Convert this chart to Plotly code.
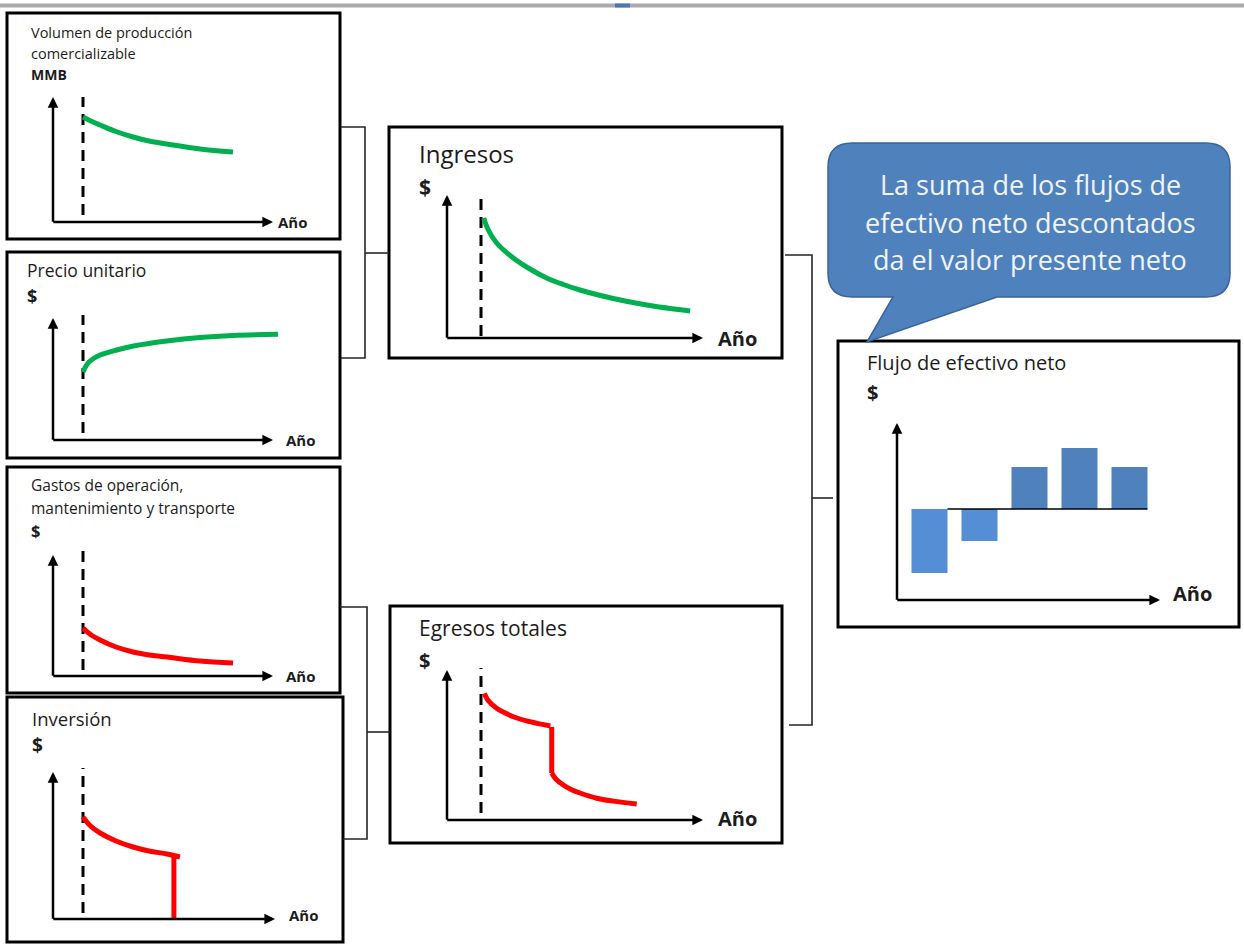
import plotly.graph_objects as go

# ---------------- series ----------------
inicio = 1.0  # año de inicio de la producción (línea punteada)

vol_anios = [1.0, 1.3, 1.57, 2.1, 2.67, 3.2, 3.8, 4.9, 6.0]
vol_mmb = [10.5, 10.05, 9.7, 9.05, 8.5, 8.1, 7.8, 7.3, 7.0]

precio_anios = [1.0, 1.1, 1.2, 1.35, 1.57, 2.12, 2.68, 3.79, 4.9, 6.0, 7.5]
precio_usd = [6.8, 7.4, 7.8, 8.15, 8.5, 9.0, 9.4, 9.9, 10.25, 10.45, 10.57]

gastos_anios = [1.0, 1.25, 1.57, 2.1, 2.67, 3.2, 3.8, 4.9, 6.0]
gastos_usd = [4.8, 4.15, 3.6, 2.9, 2.4, 2.1, 1.9, 1.5, 1.3]

inv_anios = [1.0, 1.25, 1.57, 2.1, 2.67, 3.2, 3.8, 4.23]
inv_usd = [10.2, 9.3, 8.6, 7.8, 7.2, 6.8, 6.5, 6.2]
inv_cierre_anios = [4.03, 4.03]
inv_cierre_usd = [6.2, 0.0]

ing_anios = [1.08, 1.2, 1.46, 1.95, 2.44, 2.93, 3.42, 3.91, 4.89, 5.87, 7.15]
ing_usd = [12.0, 10.9, 9.5, 8.0, 6.9, 6.0, 5.35, 4.8, 3.95, 3.3, 2.7]

egr_anios_1 = [1.1, 1.2, 1.46, 1.95, 2.44, 3.04]
egr_usd_1 = [12.67, 12.0, 11.17, 10.33, 9.83, 9.4]
egr_salto_anios = [3.08, 3.08]
egr_salto_usd = [9.3, 4.7]
egr_anios_2 = [3.08, 3.2, 3.42, 3.65, 3.91, 4.4, 4.89, 5.58]
egr_usd_2 = [4.7, 4.1, 3.5, 3.05, 2.7, 2.18, 1.89, 1.6]

flujo_anios = [1, 2, 3, 4, 5]
flujo_usd = [-3.2, -1.6, 2.1, 3.05, 2.1]

# ---------------- page layout (pixels) ----------------
W, H = 1244, 944
FONT = "Open Sans"
TXT = "#1c1c1c"
VERDE = "#00B050"
ROJO = "#FF0000"


def fx(p):
    return p / W


def fy(p):
    return 1 - p / H


paneles = [
    # x0/y0: pixel where year 0 / value 0 lie; ux/uy: pixels per unit
    dict(x0=53, y0=222, ux=30, uy=10, org=(53, 222), tip=(273, 97), dash=(97, 215), right=None),
    dict(x0=53, y0=440, ux=30, uy=10, org=(53, 440), tip=(273, 318), dash=(315, 433), right=281),
    dict(x0=53, y0=676, ux=30, uy=10, org=(53, 676), tip=(273, 555), dash=(550, 670), right=None),
    dict(x0=53, y0=919, ux=30, uy=10, org=(53, 919), tip=(275, 772), dash=(768, 913), right=None),
    dict(x0=447, y0=338, ux=34, uy=10, org=(447, 338), tip=(703, 195), dash=(193, 336), right=None),
    dict(x0=447, y0=820, ux=34, uy=10, org=(447, 820), tip=(703, 670), dash=(668, 813), right=None),
    dict(x0=879.5, y0=509, ux=50, uy=20, org=(897, 600), tip=(1160, 423), dash=None, right=None),
]

fig = go.Figure()
layout_axes = {}
annotations = []
shapes = []


def sufijo(i):
    return "" if i == 1 else str(i)


for i, p in enumerate(paneles, start=1):
    s = sufijo(i)
    L = p["org"][0] - 6
    R = max(p["tip"][0], p["right"] or 0) + 6
    T = p["tip"][1] - 6
    B = p["org"][1] + 6
    dx = lambda v, p=p: (v - p["x0"]) / p["ux"]
    dy = lambda v, p=p: (p["y0"] - v) / p["uy"]
    layout_axes["xaxis" + s] = dict(domain=[fx(L), fx(R)], range=[dx(L), dx(R)],
                                    visible=False, fixedrange=True, anchor="y" + s)
    layout_axes["yaxis" + s] = dict(domain=[fy(B), fy(T)], range=[dy(B), dy(T)],
                                    visible=False, fixedrange=True, anchor="x" + s)
    ox, oy = p["org"]
    # eje horizontal (Año)
    annotations.append(dict(x=dx(p["tip"][0]), y=dy(oy), ax=dx(ox - 1.2), ay=dy(oy),
                            xref="x" + s, yref="y" + s, axref="x" + s, ayref="y" + s,
                            text="", showarrow=True, arrowhead=2, arrowsize=0.85,
                            arrowwidth=2.5, arrowcolor="black", standoff=0))
    # eje vertical ($)
    annotations.append(dict(x=dx(ox), y=dy(p["tip"][1]), ax=dx(ox), ay=dy(oy + 1.2),
                            xref="x" + s, yref="y" + s, axref="x" + s, ayref="y" + s,
                            text="", showarrow=True, arrowhead=2, arrowsize=0.85,
                            arrowwidth=2.5, arrowcolor="black", standoff=0))
    if p["dash"]:
        fig.add_trace(go.Scatter(x=[inicio, inicio], y=[dy(p["dash"][1]), dy(p["dash"][0])],
                                 mode="lines", line=dict(color="black", width=3, dash="11px,7px"),
                                 xaxis="x" + s, yaxis="y" + s, hoverinfo="skip", showlegend=False))


def curva(i, xs, ys, color, shape="spline"):
    s = sufijo(i)
    fig.add_trace(go.Scatter(x=xs, y=ys, mode="lines",
                             line=dict(color=color, width=5, shape=shape, smoothing=1.0),
                             xaxis="x" + s, yaxis="y" + s, showlegend=False))


curva(1, vol_anios, vol_mmb, VERDE)
curva(2, precio_anios, precio_usd, VERDE)
curva(3, gastos_anios, gastos_usd, ROJO)
curva(4, inv_anios, inv_usd, ROJO)
curva(4, inv_cierre_anios, inv_cierre_usd, ROJO, shape="linear")
curva(5, ing_anios, ing_usd, VERDE)
curva(6, egr_anios_1, egr_usd_1, ROJO)
curva(6, egr_salto_anios, egr_salto_usd, ROJO, shape="linear")
curva(6, egr_anios_2, egr_usd_2, ROJO)

# flujo de efectivo neto: barras
fig.add_trace(go.Bar(x=flujo_anios, y=flujo_usd, width=0.72,
                     marker=dict(color=["#558ED5" if v < 0 else "#4F81BD" for v in flujo_usd],
                                 line=dict(width=0)),
                     xaxis="x7", yaxis="y7", showlegend=False))
shapes.append(dict(type="line", xref="x7", yref="y7",
                   x0=flujo_anios[0] + 0.36, x1=flujo_anios[-1] + 0.36, y0=0, y1=0,
                   line=dict(color="black", width=1.5), layer="above"))

# ---------------- frames, connectors, callout ----------------
cajas = [
    (7, 13, 340, 239), (7, 252, 340, 458), (7, 467, 340, 693), (7, 697, 343, 942),
    (389, 127, 782, 358), (390, 606, 782, 843), (838, 341, 1239, 627),
]
for (x0, y0, x1, y1) in cajas:
    shapes.append(dict(type="rect", xref="paper", yref="paper",
                       x0=fx(x0), x1=fx(x1), y0=fy(y0), y1=fy(y1),
                       line=dict(color="black", width=3), fillcolor="rgba(0,0,0,0)"))


def polilinea(pts):
    d = "M " + " L ".join(f"{fx(a):.5f},{fy(b):.5f}" for a, b in pts)
    return dict(type="path", xref="paper", yref="paper", path=d,
                line=dict(color="#262626", width=1.6))


conectores = [
    [(341, 127), (365, 127), (365, 358), (341, 358)], [(365, 253), (389, 253)],
    [(340, 607), (367, 607), (367, 839), (343, 839)], [(367, 732), (390, 732)],
    [(785, 255), (812, 255), (812, 725), (789, 725)], [(812, 498), (833, 498)],
]
for c in conectores:
    shapes.append(polilinea(c))

# barra superior
shapes.append(dict(type="rect", xref="paper", yref="paper", x0=0, x1=1, y0=fy(7.5), y1=fy(3.5),
                   line=dict(width=0), fillcolor="#A8AAAF"))
shapes.append(dict(type="rect", xref="paper", yref="paper", x0=fx(615), x1=fx(630), y0=fy(7.5), y1=fy(3.5),
                   line=dict(width=0), fillcolor="#4A74B4"))

# globo de texto
bl, br, bt, bb, r = 828, 1230, 143, 297, 24
pts = (f"M {fx(bl + r)},{fy(bt)} L {fx(br - r)},{fy(bt)} Q {fx(br)},{fy(bt)} {fx(br)},{fy(bt + r)} "
       f"L {fx(br)},{fy(bb - r)} Q {fx(br)},{fy(bb)} {fx(br - r)},{fy(bb)} "
       f"L {fx(997)},{fy(bb)} L {fx(867)},{fy(342)} L {fx(893)},{fy(bb)} "
       f"L {fx(bl + r)},{fy(bb)} Q {fx(bl)},{fy(bb)} {fx(bl)},{fy(bb - r)} "
       f"L {fx(bl)},{fy(bt + r)} Q {fx(bl)},{fy(bt)} {fx(bl + r)},{fy(bt)} Z")
shapes.append(dict(type="path", xref="paper", yref="paper", path=pts,
                   fillcolor="#4F81BD", line=dict(color="#3A639A", width=1.5)))

# ---------------- text ----------------


def texto(x, y, t, size, bold=False, color=TXT, anchor="left"):
    annotations.append(dict(x=fx(x), y=fy(y), xref="paper", yref="paper", text=t,
                            showarrow=False, xanchor=anchor, yanchor="middle",
                            font=dict(family=FONT, size=size, color=color,
                                      weight="bold" if bold else "normal")))


texto(29, 32, "Volumen de producción", 14.5)
texto(29, 53, "comercializable", 14.5)
texto(29, 74, "MMB", 14, bold=True)
texto(276, 222, "Año", 15, bold=True)

texto(25, 270, "Precio unitario", 17.5)
texto(25, 296, "$", 18, bold=True)
texto(284, 440, "Año", 15, bold=True)

texto(29, 485, "Gastos de operación,", 15.5)
texto(29, 508, "mantenimiento y transporte", 15.5)
texto(29, 530, "$", 16.5, bold=True)
texto(284, 676, "Año", 15, bold=True)

texto(30, 718, "Inversión", 18.5)
texto(30, 745, "$", 19, bold=True)
texto(287, 915, "Año", 15, bold=True)

texto(417, 153, "Ingresos", 24)
texto(417, 187, "$", 21, bold=True)
texto(716, 338, "Año", 20, bold=True)

texto(417, 628, "Egresos totales", 21)
texto(417, 660, "$", 20, bold=True)
texto(716, 818, "Año", 20, bold=True)

texto(865, 362, "Flujo de efectivo neto", 20)
texto(865, 392, "$", 20, bold=True)
texto(1171, 593, "Año", 20, bold=True)

globo = ["La suma de los flujos de", "efectivo neto descontados", "da el valor presente neto"]
for k, linea in enumerate(globo):
    texto(1030, 185 + 37.5 * k, linea, 27, color="#F0F4FA", anchor="center")

fig.update_layout(
    width=W, height=H, margin=dict(l=0, r=0, t=0, b=0),
    paper_bgcolor="white", plot_bgcolor="rgba(0,0,0,0)",
    showlegend=False, shapes=shapes, annotations=annotations, **layout_axes,
)

fig.write_html("out.html", config={"displayModeBar": False})
